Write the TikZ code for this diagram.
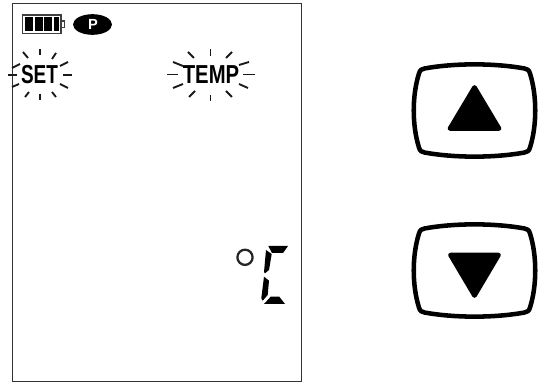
\documentclass[tikz,border=0pt]{standalone}
\usepackage{fontspec}
\usetikzlibrary{shapes.geometric}
\setmainfont{Liberation Sans}
\tikzset{
  ray/.style={line width=1.4pt,black!90},
  seg/.style={fill=black,draw=none},
  keyframe/.style={line width=3.4pt,draw=black,fill=white,line join=round},
  keyarrow/.style={fill=black,draw=black,line width=3.5pt,line join=round},
  lcdtext/.style={inner sep=0pt,font=\fontsize{19.5pt}{19.5pt}\selectfont\bfseries}
}
\newcommand{\keyshape}{
  (-50,-42) .. controls (-20,-47.5) and (20,-47.5) .. (50,-42)
  .. controls (53,-41.5) and (54.5,-40.5) .. (55.5,-37)
  .. controls (62.5,-15) and (62.5,15) .. (55.5,37)
  .. controls (54.5,40.5) and (53,41.5) .. (50,42)
  .. controls (20,47.5) and (-20,47.5) .. (-50,42)
  .. controls (-53,41.5) and (-54.5,40.5) .. (-55.5,37)
  .. controls (-62.5,15) and (-62.5,-15) .. (-55.5,-37)
  .. controls (-54.5,-40.5) and (-53,-41.5) .. (-50,-42) -- cycle
}
\begin{document}
\begin{tikzpicture}[x=0.75pt,y=-0.75pt]
\useasboundingbox (0,0) rectangle (544,385);
% screen
\draw[line width=1pt,black!80] (12.5,3.5) rectangle (301.5,381.5);
% battery
\draw[line width=0.9pt,black!75,fill=white] (22.5,15) rectangle (61,33.5);
\fill (25,17) rectangle (33,31.5);
\fill (34.5,17) rectangle (42.5,31.5);
\fill (44,17) rectangle (52,31.5);
\fill (53.5,17) rectangle (59,31.5);
\draw[line width=0.8pt,black!75] (61,21) rectangle (64.5,27.5);
% P badge
\node[ellipse,fill=black,minimum width=29.25pt,minimum height=15.5pt,inner sep=0pt] (pbadge) at (92.5,24.5) {};
\node[inner sep=0pt,text=white,font=\fontsize{11pt}{11pt}\selectfont\bfseries] (ptext) at (93,24.5) {P};
% SET
\node[lcdtext,xscale=.73] (settext) at (39.5,74.5) {SET};
\foreach \a/\b/\c/\d in {40/49/40/55,23/52/28/58,56/53/52/59,63/75/72/75,60/66/68/62,60/84/68/88,
  40/94/40/100,25/97/29/92,56/97/52/92,8/75/17/75,12/68/20/64,12/87/19/84}
  \draw[ray] (\a,\b) -- (\c,\d);
% TEMP
\node[lcdtext,xscale=.78] (temptext) at (211,74.5) {TEMP};
\foreach \a/\b/\c/\d in {210.5/49/210.5/56,188/52/194/58,232/52/226/58,243/74.5/255/74.5,239/65/249/62,239/84/248/88,
  210.5/95/210.5/101,189/97/195/91,232/97/226/91,167/74.5/178/74.5,173/62/183/66,173/88/183/84}
  \draw[ray] (\a,\b) -- (\c,\d);
% degree and segments
\draw[line width=1.7pt,black!85] (245,257.3) circle[radius=7.6];
\fill[seg] (268.3,246) -- (288,246) -- (283,253) -- (272,253) -- cycle;
\fill[seg] (266,250) -- (271.7,254) -- (269,270) -- (265,273.3) -- (264,272) -- cycle;
\fill[seg] (264,276.7) -- (269,280.7) -- (267.7,295) -- (262.7,300.7) -- (261.3,298.3) -- cycle;
\fill[seg] (270.7,296.7) -- (279.3,296.7) -- (285,304) -- (264,304) -- cycle;
% keys
\begin{scope}[shift={(474.5,110.5)}]
  \draw[keyframe] \keyshape;
  \draw[keyarrow] (0,-23) -- (24.5,18) -- (-24.5,18) -- cycle;
\end{scope}
\begin{scope}[shift={(474.5,270.5)}]
  \draw[keyframe] \keyshape;
  \draw[keyarrow] (0,25) -- (24,-15.5) -- (-24,-15.5) -- cycle;
\end{scope}
\end{tikzpicture}
\end{document}
